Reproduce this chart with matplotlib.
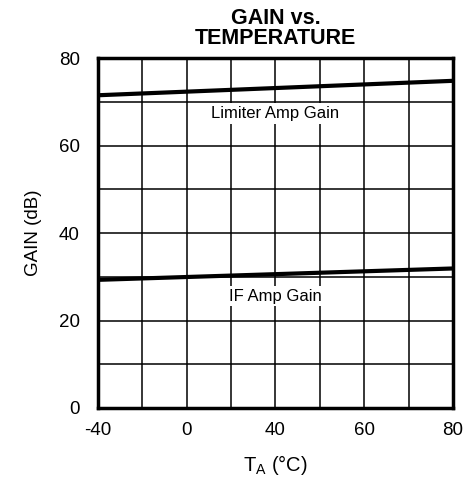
import matplotlib
matplotlib.use('Agg')
import matplotlib.pyplot as plt

plt.rcParams['font.family'] = ['Liberation Sans', 'DejaVu Sans']
plt.rcParams['mathtext.fontset'] = 'custom'
plt.rcParams['mathtext.rm'] = 'Liberation Sans'

# data
temp = [-40, 80]
limiter_gain = [71.5, 74.8]
if_gain = [29.3, 31.9]

xticks = [-40, -10, 20, 50, 80]
xtick_labels = ['-40', '0', '40', '60', '80']
yticks = [0, 20, 40, 60, 80]

fig = plt.figure(figsize=(4.72, 4.8), dpi=100)
ax = fig.add_axes([0.2076, 0.15, 0.752, 0.729])

ax.set_xlim(-40, 80)
ax.set_ylim(0, 80)

# grid: 8 x 8 cells
for x in range(-40, 81, 15):
    ax.axvline(x, color='black', lw=1.1, zorder=1)
for y in range(0, 81, 10):
    ax.axhline(y, color='black', lw=1.1, zorder=1)

ax.plot(temp, limiter_gain, color='black', lw=3, zorder=4, solid_capstyle='butt')
ax.plot(temp, if_gain, color='black', lw=3, zorder=4, solid_capstyle='butt')

ax.text(20, 67.4, 'Limiter Amp Gain', ha='center', va='center', fontsize=12,
        zorder=3, bbox=dict(facecolor='white', edgecolor='none', pad=2))
ax.text(20, 25.6, 'IF Amp Gain', ha='center', va='center', fontsize=12,
        zorder=3, bbox=dict(facecolor='white', edgecolor='none', pad=2))

ax.set_xticks(xticks)
ax.set_xticklabels(xtick_labels)
ax.set_yticks(yticks)
ax.tick_params(length=0, labelsize=13.5, pad=10)
ax.tick_params(axis='y', pad=13)

for s in ax.spines.values():
    s.set_linewidth(2.5)
    s.set_zorder(5)

ax.set_ylabel('GAIN (dB)', fontsize=13.5, labelpad=12)
ax.set_xlabel(r'T$_\mathrm{A}$ (°C)', fontsize=14.5, labelpad=10)
ax.set_title('GAIN vs.\nTEMPERATURE', fontsize=15.5, fontweight='bold',
             linespacing=0.95, pad=10)

fig.savefig('out.png', dpi=100)
